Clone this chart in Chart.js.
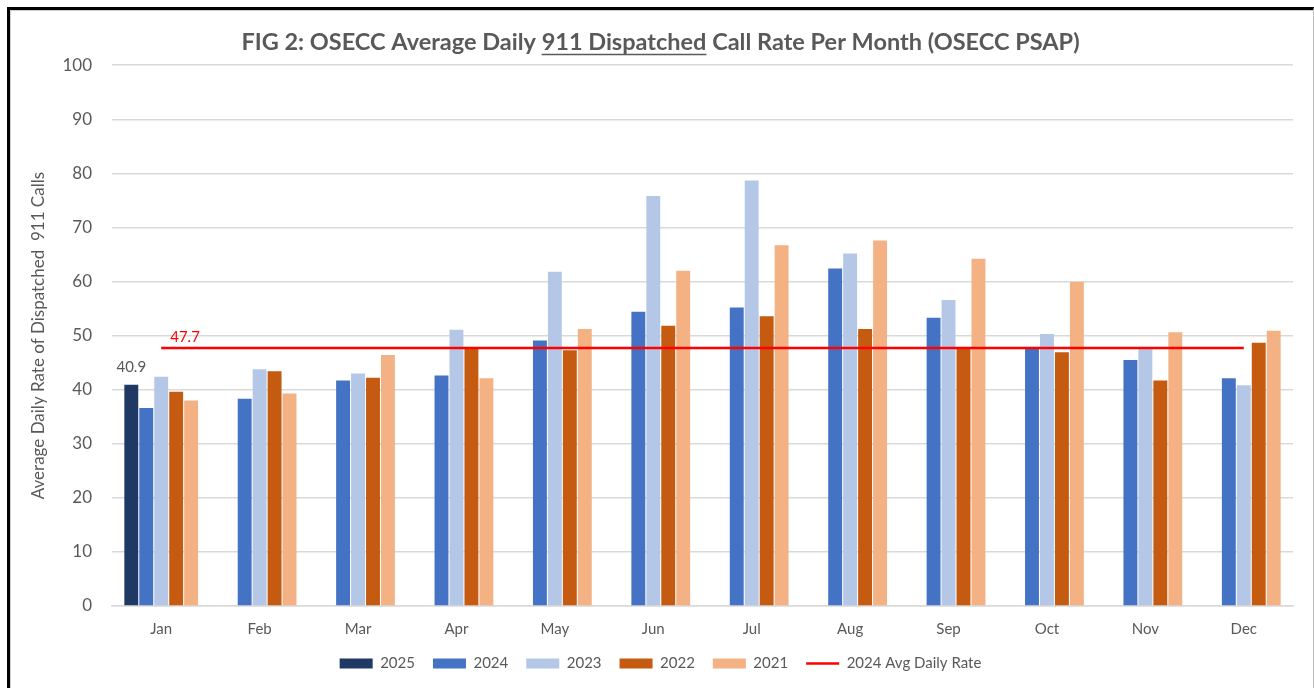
<!DOCTYPE html>
<html>
<head>
<meta charset="utf-8">
<title>FIG 2: OSECC Average Daily 911 Dispatched Call Rate</title>
<script src="https://cdn.jsdelivr.net/npm/chart.js@4.4.1/dist/chart.umd.min.js"></script>
<style>
    html, body { margin: 0; padding: 0; background: #fff; overflow: hidden; }
    #wrap { position: relative; width: 1314px; height: 688px; }
    #frame {
        position: absolute; left: 7px; top: 7px; width: 1307px; height: 700px;
        box-sizing: border-box;
        border-top: 3px solid #000; border-left: 3px solid #000; border-right: 1px solid #bfbfbf;
        box-shadow: inset 1px 1px 0 #d0d0d0;
        pointer-events: none;
    }
</style>
</head>
<body>
<div id="wrap">
    <canvas id="grafico"></canvas>
    <div id="frame"></div>
</div>
<script>
// Dados
const meses = ['Jan', 'Feb', 'Mar', 'Apr', 'May', 'Jun', 'Jul', 'Aug', 'Sep', 'Oct', 'Nov', 'Dec'];
const taxa2025 = [40.9, null, null, null, null, null, null, null, null, null, null, null];
const taxa2024 = [36.6, 38.3, 41.7, 42.6, 49.1, 54.4, 55.2, 62.4, 53.3, 47.5, 45.5, 42.1];
const taxa2023 = [42.4, 43.8, 43.0, 51.1, 61.8, 75.8, 78.7, 65.2, 56.6, 50.3, 47.5, 40.8];
const taxa2022 = [39.6, 43.4, 42.2, 47.9, 47.3, 51.8, 53.6, 51.2, 47.7, 46.9, 41.7, 48.7];
const taxa2021 = [38.0, 39.3, 46.4, 42.1, 51.2, 62.0, 66.7, 67.6, 64.2, 59.9, 50.6, 50.9];
const media2024 = [47.7, 47.7, 47.7, 47.7, 47.7, 47.7, 47.7, 47.7, 47.7, 47.7, 47.7, 47.7];
const yTicks = [0, 10, 20, 30, 40, 50, 60, 70, 80, 90, 100];

const cinza = '#595959';
const fonte = 'Lato';
const tamTitulo = 23.5;

function barra(label, data, cor) {
    return {
        type: 'bar',
        label: label,
        data: data,
        backgroundColor: cor,
        borderColor: '#ffffff',
        borderWidth: 0,
        barPercentage: 0.93,
        categoryPercentage: 0.76,
        order: 1
    };
}

// Rótulos de valor (40.9 e 47.7)
const rotulosValor = {
    id: 'rotulosValor',
    afterDatasetsDraw(chart) {
        const ctx = chart.ctx;
        ctx.save();
        ctx.font = '15px ' + fonte;
        ctx.textBaseline = 'alphabetic';

        const barra2025 = chart.getDatasetMeta(0).data[0];
        ctx.fillStyle = cinza;
        ctx.textAlign = 'center';
        ctx.fillText(taxa2025[0].toFixed(1), barra2025.x, barra2025.y - 13);

        const ponto = chart.getDatasetMeta(5).data[0];
        ctx.fillStyle = '#FF0000';
        ctx.textAlign = 'left';
        ctx.fillText(media2024[0].toFixed(1), ponto.x + 9, ponto.y - 6);
        ctx.restore();
    }
};

// Sublinhado de "911 Dispatched" no título
const sublinhado = {
    id: 'sublinhado',
    afterDraw(chart) {
        const t = chart.titleBlock;
        if (!t) return;
        const ctx = chart.ctx;
        const antes = 'FIG 2: OSECC Average Daily ';
        const marcado = '911 Dispatched';
        const texto = chart.options.plugins.title.text;
        ctx.save();
        ctx.font = 'bold ' + tamTitulo + 'px ' + fonte;
        const total = ctx.measureText(texto).width;
        const x0 = (t.left + t.right) / 2 - total / 2 + ctx.measureText(antes).width;
        const x1 = x0 + ctx.measureText(marcado).width;
        const y = t.top + t.options.padding.top + tamTitulo * 1.2 / 2 + 12.5;
        ctx.strokeStyle = cinza;
        ctx.lineWidth = 1.5;
        ctx.beginPath();
        ctx.moveTo(x0, y);
        ctx.lineTo(x1, y);
        ctx.stroke();
        ctx.restore();
    }
};

const ctxGrafico = document.getElementById('grafico');

new Chart(ctxGrafico, {
    data: {
        labels: meses,
        datasets: [
            barra('2025', taxa2025, '#203864'),
            barra('2024', taxa2024, '#4472C4'),
            barra('2023', taxa2023, '#B4C7E7'),
            barra('2022', taxa2022, '#C55A11'),
            barra('2021', taxa2021, '#F4B183'),
            {
                type: 'line',
                label: '2024 Avg Daily Rate',
                data: media2024,
                borderColor: '#FF0000',
                backgroundColor: '#FF0000',
                borderWidth: 2.5,
                pointRadius: 0,
                pointHoverRadius: 0,
                fill: false,
                order: 0
            }
        ]
    },
    options: {
        responsive: true,
        maintainAspectRatio: false,
        animation: false,
        layout: {
            padding: { top: 10, left: 28, right: 21, bottom: 7 }
        },
        scales: {
            x: {
                grid: { display: false, drawTicks: false },
                border: { color: '#D9D9D9', width: 1.5 },
                ticks: {
                    color: cinza,
                    font: { family: fonte, size: 15 },
                    padding: 14
                },
                afterFit(scale) {
                    scale.height = 32;
                }
            },
            y: {
                min: 0,
                max: 100,
                afterBuildTicks(scale) {
                    scale.ticks = yTicks.map(v => ({ value: v }));
                },
                afterFit(scale) {
                    scale.width = 84;
                },
                grid: { color: '#D9D9D9', lineWidth: 1.5, drawTicks: false },
                border: { display: false },
                ticks: {
                    color: cinza,
                    font: { family: fonte, size: 17 },
                    padding: 20
                },
                title: {
                    display: true,
                    text: 'Average Daily Rate of Dispatched  911 Calls',
                    color: cinza,
                    font: { family: fonte, size: 17 },
                    padding: 0
                }
            }
        },
        plugins: {
            title: {
                display: true,
                text: 'FIG 2: OSECC Average Daily 911 Dispatched Call Rate Per Month (OSECC PSAP)',
                color: cinza,
                font: { family: fonte, size: tamTitulo, weight: 'bold' },
                padding: { top: 18, bottom: 9 }
            },
            legend: {
                position: 'bottom',
                labels: {
                    color: cinza,
                    font: { family: fonte, size: 15 },
                    usePointStyle: true,
                    pointStyleWidth: 33,
                    boxHeight: 10,
                    padding: 18,
                    sort: (a, b) => a.datasetIndex - b.datasetIndex,
                    generateLabels(chart) {
                        const itens = Chart.defaults.plugins.legend.labels.generateLabels(chart);
                        itens.forEach(item => {
                            if (item.datasetIndex === 5) {
                                item.pointStyle = 'line';
                                item.strokeStyle = '#FF0000';
                                item.lineWidth = 2.5;
                            } else {
                                item.pointStyle = 'rect';
                                item.lineWidth = 0;
                            }
                        });
                        return itens;
                    }
                }
            },
            tooltip: { enabled: false }
        }
    },
    plugins: [rotulosValor, sublinhado]
});
</script>
</body>
</html>
